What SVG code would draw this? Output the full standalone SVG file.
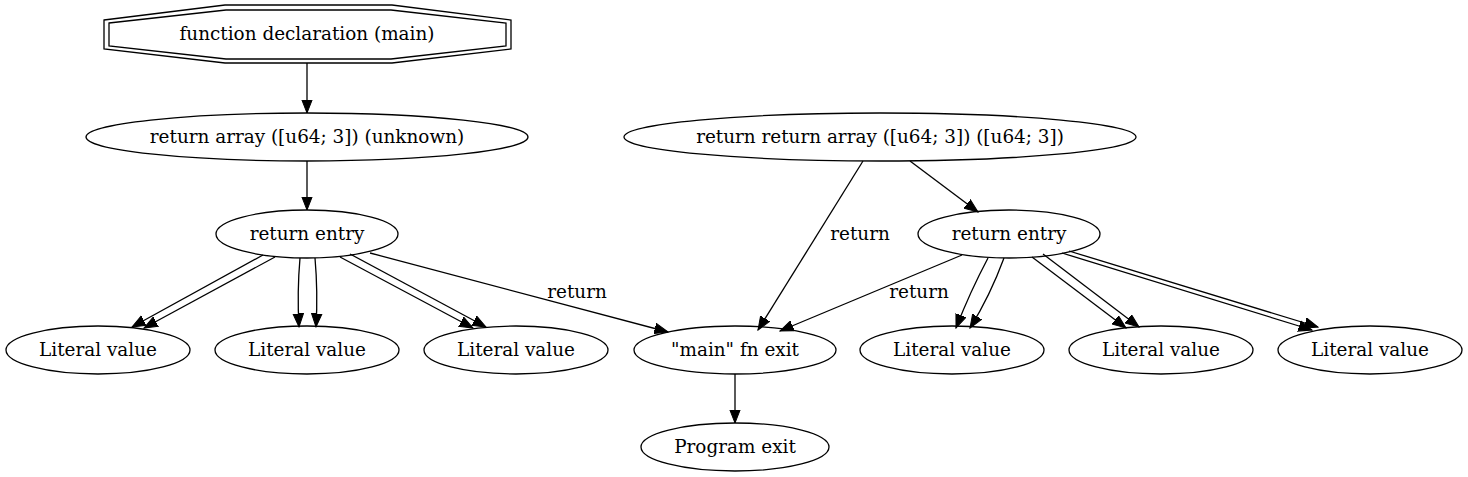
<svg xmlns="http://www.w3.org/2000/svg" width="1468" height="477" viewBox="0 0 1468 477">
<style>
  .n ellipse, .n polygon { fill: none; stroke: #000; stroke-width: 1.3; }
  text { font-family: "DejaVu Serif", "Liberation Serif", serif; font-size: 18.4px; fill: #000; text-anchor: middle; }
  .e path { fill: none; stroke: #000; stroke-width: 1.3; }
</style>
<defs>
  <marker id="arr" markerUnits="userSpaceOnUse" markerWidth="15" markerHeight="12" refX="13.5" refY="6" orient="auto">
    <path d="M0,0.7 L13.5,6 L0,11.3 z" fill="#000" stroke="#000" stroke-width="1"/>
  </marker>
</defs>
<rect width="1468" height="477" fill="#fff"/>

<g id="edges" class="e">
  <path d="M307,63 L307,113" marker-end="url(#arr)"/>
  <path d="M307,161 L307,210" marker-end="url(#arr)"/>
  <!-- left entry to literal 1 -->
  <path d="M263,255 L132,327" marker-end="url(#arr)"/>
  <path d="M275,257 L144,328" marker-end="url(#arr)"/>
  <!-- left entry to literal 2 -->
  <path d="M300,258 Q297,292 299,327" marker-end="url(#arr)"/>
  <path d="M315,258 Q318,292 316,327" marker-end="url(#arr)"/>
  <!-- left entry to literal 3 -->
  <path d="M340,257 L473,328" marker-end="url(#arr)"/>
  <path d="M350,254 L486,327" marker-end="url(#arr)"/>
  <!-- left entry to main exit -->
  <path d="M370,253 L668,332" marker-end="url(#arr)"/>
  <!-- node2 to main exit -->
  <path d="M863,161 L758,330" marker-end="url(#arr)"/>
  <!-- node2 to right entry -->
  <path d="M910,161 L978,212" marker-end="url(#arr)"/>
  <!-- right entry to main exit -->
  <path d="M962,255 L780,331" marker-end="url(#arr)"/>
  <!-- right entry to literal 4 -->
  <path d="M988,258 Q970,292 956,328" marker-end="url(#arr)"/>
  <path d="M1004,258 Q990,296 970,328" marker-end="url(#arr)"/>
  <!-- right entry to literal 5 -->
  <path d="M1032,257 L1126,328" marker-end="url(#arr)"/>
  <path d="M1043,254 L1139,327" marker-end="url(#arr)"/>
  <!-- right entry to literal 6 -->
  <path d="M1062,253 L1312,330" marker-end="url(#arr)"/>
  <path d="M1069,251 L1318,327" marker-end="url(#arr)"/>
  <!-- main exit to program exit -->
  <path d="M735,374 L735,423" marker-end="url(#arr)"/>
  <text x="577" y="298">return</text>
  <text x="860" y="240">return</text>
  <text x="919" y="298">return</text>
</g>

<g id="fndecl" class="n">
  <polygon points="104,20 225,5 392,5 511,20 511,49 392,63 225,63 104,49"/>
  <polygon points="109,23 226,10 391,10 506,23 506,46 391,59 226,59 109,46"/>
  <text x="307" y="40">function declaration (main)</text>
</g>
<g id="ret_array" class="n">
  <ellipse cx="307" cy="137" rx="221" ry="24"/>
  <text x="307" y="143">return array ([u64; 3]) (unknown)</text>
</g>
<g id="ret_ret_array" class="n">
  <ellipse cx="880" cy="137" rx="256" ry="24"/>
  <text x="880" y="143">return return array ([u64; 3]) ([u64; 3])</text>
</g>
<g id="entry_left" class="n">
  <ellipse cx="307" cy="234" rx="91" ry="24"/>
  <text x="307" y="240">return entry</text>
</g>
<g id="entry_right" class="n">
  <ellipse cx="1009" cy="234" rx="91" ry="24"/>
  <text x="1009" y="240">return entry</text>
</g>
<g id="lit1" class="n">
  <ellipse cx="98" cy="350" rx="92" ry="24"/>
  <text x="98" y="356">Literal value</text>
</g>
<g id="lit2" class="n">
  <ellipse cx="307" cy="350" rx="92" ry="24"/>
  <text x="307" y="356">Literal value</text>
</g>
<g id="lit3" class="n">
  <ellipse cx="516" cy="350" rx="92" ry="24"/>
  <text x="516" y="356">Literal value</text>
</g>
<g id="main_exit" class="n">
  <ellipse cx="735" cy="350" rx="101" ry="24"/>
  <text x="735" y="356">"main" fn exit</text>
</g>
<g id="lit4" class="n">
  <ellipse cx="952" cy="350" rx="92" ry="24"/>
  <text x="952" y="356">Literal value</text>
</g>
<g id="lit5" class="n">
  <ellipse cx="1161" cy="350" rx="92" ry="24"/>
  <text x="1161" y="356">Literal value</text>
</g>
<g id="lit6" class="n">
  <ellipse cx="1370" cy="350" rx="92" ry="24"/>
  <text x="1370" y="356">Literal value</text>
</g>
<g id="prog_exit" class="n">
  <ellipse cx="735" cy="447" rx="94" ry="24"/>
  <text x="735" y="453">Program exit</text>
</g>
</svg>
